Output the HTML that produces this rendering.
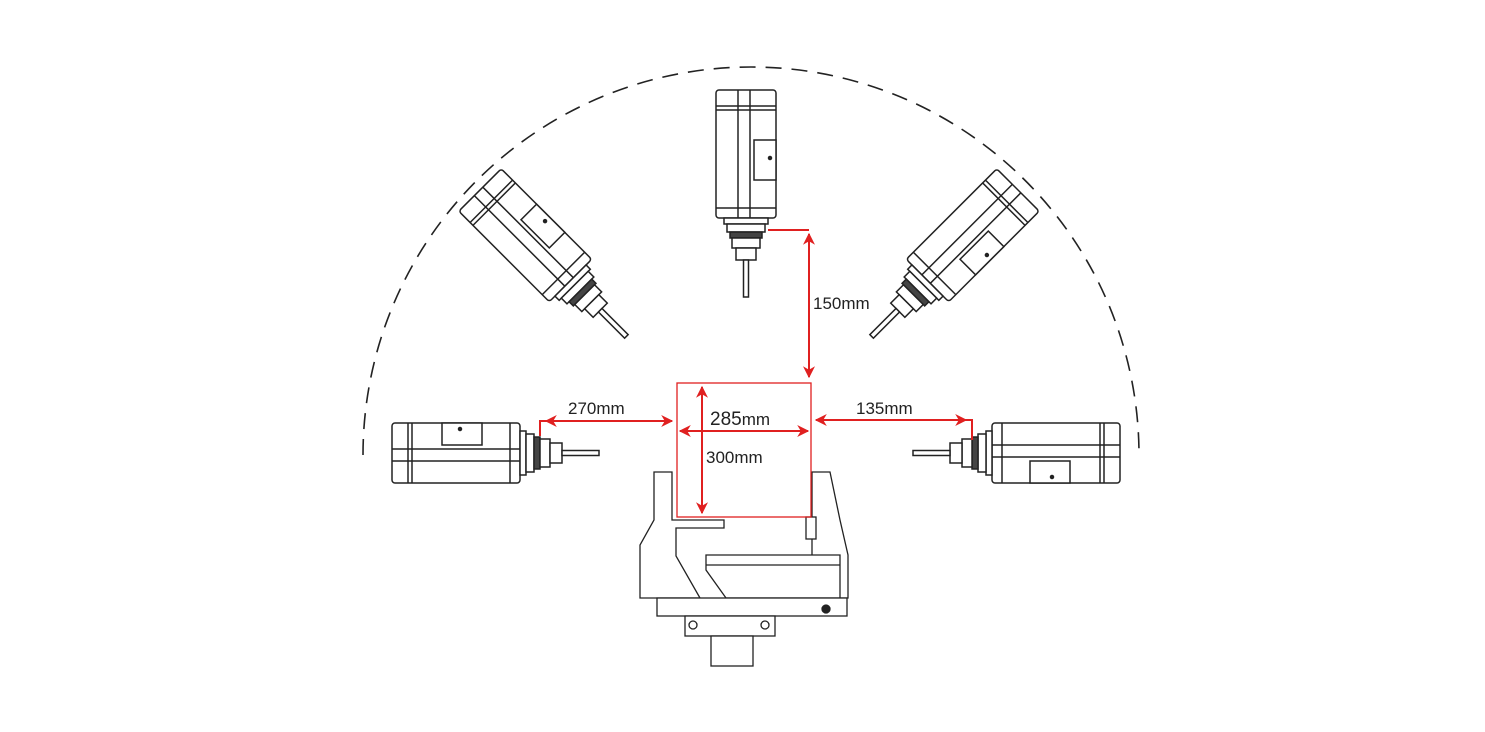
<!DOCTYPE html>
<html><head><meta charset="utf-8"><style>html,body{margin:0;padding:0;background:#fff;}svg{display:block}</style></head>
<body>
<svg width="1485" height="732" viewBox="0 0 1485 732" xmlns="http://www.w3.org/2000/svg">
<defs>
<g id="sp" fill="#fff" stroke="#222" stroke-width="1.5">
  <rect x="-30" y="0" width="60" height="128" rx="3"/>
  <line x1="-30" y1="16" x2="30" y2="16"/>
  <line x1="-30" y1="20" x2="30" y2="20"/>
  <line x1="-30" y1="118" x2="30" y2="118"/>
  <line x1="-8" y1="0" x2="-8" y2="128"/>
  <line x1="4" y1="0" x2="4" y2="128"/>
  <rect x="8" y="50" width="22" height="40"/>
  <circle cx="24" cy="68" r="1.5" fill="#222"/>
  <rect x="-22" y="128" width="44" height="6"/>
  <rect x="-19" y="134" width="38" height="8"/>
  <rect x="-16" y="142" width="32" height="6" fill="#444"/>
  <rect x="-14" y="148" width="28" height="10"/>
  <rect x="-10" y="158" width="20" height="12"/>
  <rect x="-2.5" y="170" width="5" height="37"/>
</g>
<marker id="ah" viewBox="0 0 10 10" refX="9" refY="5" markerWidth="6" markerHeight="6" orient="auto-start-reverse"><path d="M0,0 L10,5 L0,10 L3,5 z" fill="#e02020"/></marker>
</defs>
<path d="M363,455 A388,388 0 0 1 1139,455" fill="none" stroke="#222" stroke-width="1.6" stroke-dasharray="16,10"/>
<use href="#sp" transform="translate(746,90)"/>
<use href="#sp" transform="translate(480,190) rotate(-45)"/>
<use href="#sp" transform="translate(1018,190) rotate(45)"/>
<use href="#sp" transform="translate(392,453) rotate(-90)"/>
<use href="#sp" transform="translate(1120,453) rotate(90)"/>
<g fill="#fff" stroke="#222" stroke-width="1.3">
  <path d="M654,472 L672,472 L672,520 L724,520 L724,528 L676,528 L676,556 L700,598 L640,598 L640,545 L654,520 Z"/>
  <path d="M812,472 L830,472 L840,520 L848,555 L848,598 L812,598 L812,540 Z"/>
  <path d="M706,555 L840,555 L840,598 L726,598 L706,570 Z"/>
  <line x1="706" y1="565" x2="840" y2="565"/>
  <rect x="657" y="598" width="190" height="18"/>
  <rect x="685" y="616" width="90" height="20"/>
  <rect x="711" y="636" width="42" height="30"/>
  <rect x="806" y="517" width="10" height="22"/>
  <circle cx="826" cy="609" r="4" fill="#222"/>
  <circle cx="693" cy="625" r="4"/><circle cx="765" cy="625" r="4"/>
</g>
<g stroke="#e02020" stroke-width="2" fill="none">
  <rect x="677" y="383" width="134" height="134" stroke-width="1.3"/>
  <polyline points="768,230 809,230"/>
  <line x1="809" y1="234" x2="809" y2="377" marker-start="url(#ah)" marker-end="url(#ah)"/>
  <polyline points="540,436 540,421 546,421"/>
  <line x1="546" y1="421" x2="672" y2="421" marker-start="url(#ah)" marker-end="url(#ah)"/>
  <polyline points="972,440 972,420 966,420"/>
  <line x1="816" y1="420" x2="966" y2="420" marker-start="url(#ah)" marker-end="url(#ah)"/>
  <line x1="680" y1="431" x2="808" y2="431" marker-start="url(#ah)" marker-end="url(#ah)"/>
  <line x1="702" y1="387" x2="702" y2="513" marker-start="url(#ah)" marker-end="url(#ah)"/>
</g>
<g font-family="Liberation Sans, sans-serif" fill="#222" font-size="17">
  <text x="813" y="309">150mm</text>
  <text x="568" y="414">270mm</text>
  <text x="856" y="414">135mm</text>
  <text x="710" y="425" font-size="19">285<tspan font-size="17">mm</tspan></text>
  <text x="706" y="463">300mm</text>
</g>
</svg>
</body></html>
